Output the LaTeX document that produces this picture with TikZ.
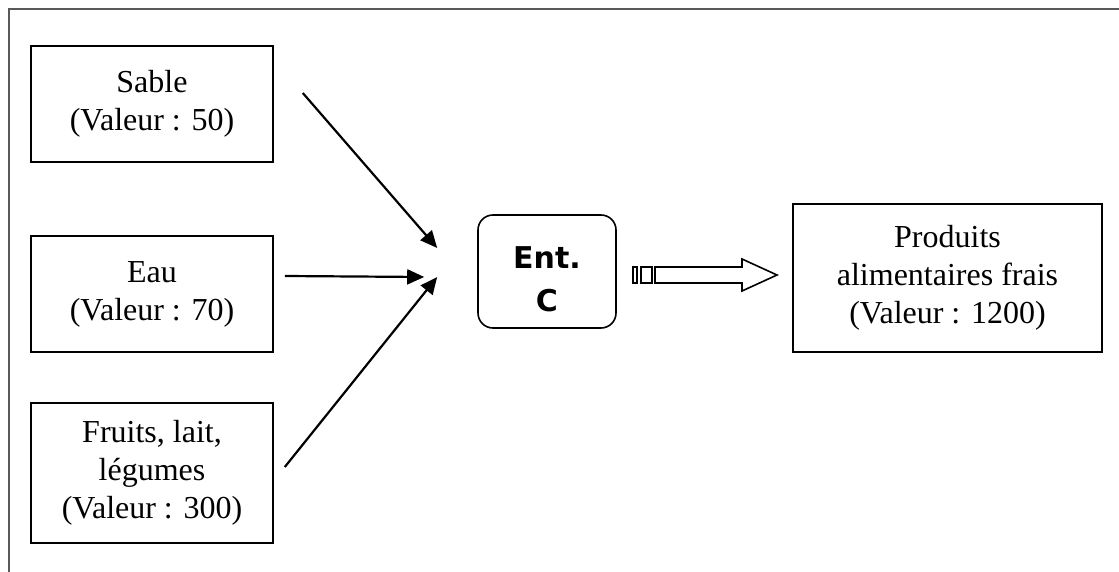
\documentclass[tikz,border=0pt]{standalone}
\usepackage{fontspec}
\setmainfont{Liberation Serif}
\newfontfamily\entfont{DejaVu Sans}
\usetikzlibrary{arrows.meta}

\begin{document}
\begin{tikzpicture}[x=1pt,y=-1pt,
        valbox/.style={draw, line width=1.6pt, inner sep=0pt, align=center,
            minimum width=242pt, font=\fontsize{32}{38}\selectfont},
        flow/.style={line width=2.2pt, -{Triangle[length=17pt,width=15pt]}}]
        \useasboundingbox (0,0) rectangle (1119,572);
        \draw[line width=2pt, black!65] (9,572) -- (9,9) -- (1119,9);
        % inputs
        \node[valbox, minimum height=116pt] (sable) at (152,104) {Sable\\(Valeur : 50)};
        \node[valbox, minimum height=116pt] (eau) at (152,294) {Eau\\(Valeur : 70)};
        \node[valbox, minimum height=140pt] (fruits) at (152,473) {Fruits, lait,\\l\'egumes\\(Valeur : 300)};
        % firm
        \node[draw, line width=1.6pt, rounded corners=15pt, minimum width=138pt,
            minimum height=113pt] (ent) at (547,271.5) {};
        \node[align=center, inner sep=0pt, font=\entfont\bfseries\fontsize{30}{43}\selectfont]
            at ([yshift=-8pt]ent.center) {Ent.\\C};
        % output
        \node[valbox, minimum width=309pt, minimum height=148pt] (prod) at (947.5,278)
            {Produits\\alimentaires frais\\(Valeur : 1200)};
        \draw[flow] ([xshift=29pt,yshift=11pt]sable.east) -- ([xshift=-40pt,yshift=23.5pt]ent.west);
        \draw[flow] ([xshift=11pt,yshift=18pt]eau.east) -- ([xshift=-53pt,yshift=-5.5pt]ent.west);
        \draw[flow] ([xshift=11pt,yshift=6pt]fruits.east) -- ([xshift=-40pt,yshift=-5.5pt]ent.west);
        % striped arrow
        \draw[line width=1.6pt] (633,267) rectangle (637,283);
        \draw[line width=1.6pt] (641,267) rectangle (652,283);
        \draw[line width=1.6pt] (655,267) -- (742,267) -- (742,259) -- (777,275)
            -- (742,291) -- (742,283) -- (655,283) -- cycle;
\end{tikzpicture}
\end{document}
